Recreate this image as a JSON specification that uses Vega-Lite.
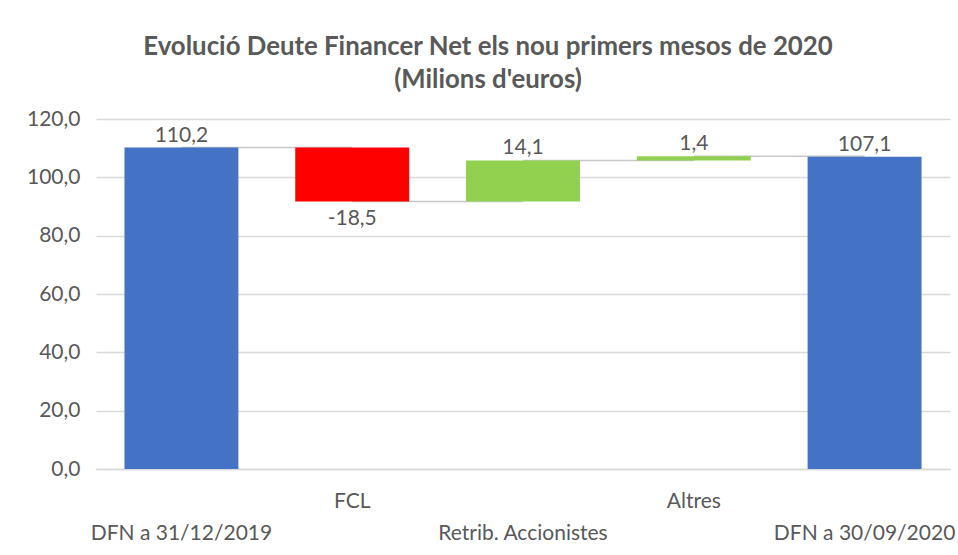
{
  "$schema": "https://vega.github.io/schema/vega-lite/v6.json",
  "width": 854,
  "height": 350,
  "autosize": {"type": "none"},
  "padding": {"left": 96, "top": 119, "right": 8, "bottom": 86},
  "background": "#ffffff",
  "config": {
    "view": {"stroke": null},
    "font": "Lato"
  },
  "title": {
    "text": ["Evolució Deute Financer Net els nou primers mesos de 2020", "(Milions d'euros)"],
    "anchor": "middle",
    "frame": "group",
    "font": "Lato",
    "fontSize": 25.8,
    "fontWeight": "bold",
    "color": "#595959",
    "lineHeight": 33,
    "offset": 14,
    "dx": -35
  },
  "datasets": {
    "bars": [
      {"cat": "DFN a 31/12/2019", "start": 0, "end": 110.2, "label": "110,2", "kind": "total"},
      {"cat": "FCL", "start": 110.2, "end": 91.7, "label": "-18,5", "kind": "neg"},
      {"cat": "Retrib. Accionistes", "start": 91.7, "end": 105.8, "label": "14,1", "kind": "pos"},
      {"cat": "Altres", "start": 105.8, "end": 107.2, "label": "1,4", "kind": "pos"},
      {"cat": "DFN a 30/09/2020", "start": 0, "end": 107.1, "label": "107,1", "kind": "total"}
    ],
    "links": [
      {"cat": "DFN a 31/12/2019", "to": "FCL", "level": 110.2},
      {"cat": "FCL", "to": "Retrib. Accionistes", "level": 91.7},
      {"cat": "Retrib. Accionistes", "to": "Altres", "level": 105.8},
      {"cat": "Altres", "to": "DFN a 30/09/2020", "level": 107.2}
    ]
  },
  "layer": [
    {
      "data": {"name": "links"},
      "mark": {"type": "rule", "color": "#c8c8c8", "strokeWidth": 1.5},
      "encoding": {
        "x": {"field": "cat", "type": "nominal", "sort": ["DFN a 31/12/2019", "FCL", "Retrib. Accionistes", "Altres", "DFN a 30/09/2020"]},
        "x2": {"field": "to"},
        "y": {"field": "level", "type": "quantitative"}
      }
    },
    {
      "data": {"name": "bars"},
      "layer": [
        {
          "mark": {"type": "bar"},
          "encoding": {
            "x": {
              "field": "cat", "type": "nominal",
              "sort": ["DFN a 31/12/2019", "FCL", "Retrib. Accionistes", "Altres", "DFN a 30/09/2020"],
              "scale": {"paddingInner": 0.333, "paddingOuter": 0.1667},
              "axis": {
                "title": null,
                "labelAngle": 0,
                "labelAlign": "center",
                "labelExpr": "(datum.label == 'FCL' || datum.label == 'Altres') ? datum.label : ['', datum.label]",
                "labelFont": "Lato",
                "labelFontSize": 21,
                "labelColor": "#595959",
                "labelLineHeight": 32,
                "labelPadding": 21,
                "labelBaseline": "top",
                "labelLimit": 0,
                "labelOverlap": false,
                "ticks": false,
                "domain": true,
                "domainColor": "#d9d9d9",
                "domainWidth": 1.5
              }
            },
            "y": {
              "field": "start", "type": "quantitative",
              "scale": {"domain": [0, 120], "nice": false},
              "axis": {
                "title": null,
                "values": [0, 20, 40, 60, 80, 100, 120],
                "labelExpr": "replace(format(datum.value, '.1f'), '.', ',')",
                "labelFont": "Lato",
                "labelFontSize": 21,
                "labelColor": "#595959",
                "labelPadding": 16,
                "ticks": false,
                "domain": false,
                "grid": true,
                "gridColor": "#d9d9d9",
                "gridWidth": 1.5
              }
            },
            "y2": {"field": "end"},
            "color": {
              "field": "kind", "type": "nominal",
              "scale": {"domain": ["total", "neg", "pos"], "range": ["#4472C4", "#FF0000", "#92D050"]},
              "legend": null
            }
          }
        },
        {
          "transform": [{"filter": "datum.kind != 'neg'"}],
          "mark": {"type": "text", "baseline": "alphabetic", "dy": -6, "font": "Lato", "fontSize": 21, "color": "#595959"},
          "encoding": {
            "x": {"field": "cat", "type": "nominal", "sort": ["DFN a 31/12/2019", "FCL", "Retrib. Accionistes", "Altres", "DFN a 30/09/2020"]},
            "y": {"field": "end", "type": "quantitative"},
            "text": {"field": "label"}
          }
        },
        {
          "transform": [{"filter": "datum.kind == 'neg'"}],
          "mark": {"type": "text", "baseline": "top", "dy": 6, "font": "Lato", "fontSize": 21, "color": "#595959"},
          "encoding": {
            "x": {"field": "cat", "type": "nominal", "sort": ["DFN a 31/12/2019", "FCL", "Retrib. Accionistes", "Altres", "DFN a 30/09/2020"]},
            "y": {"field": "end", "type": "quantitative"},
            "text": {"field": "label"}
          }
        }
      ]
    }
  ]
}
